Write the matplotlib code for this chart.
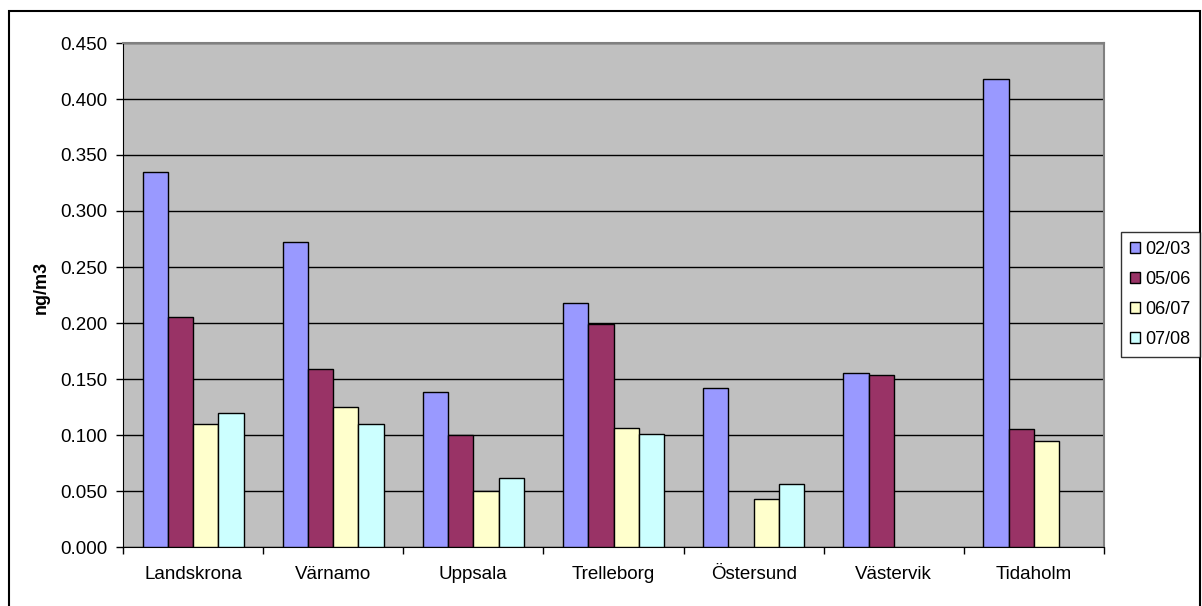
import numpy as np
import matplotlib
matplotlib.use("Agg")
import matplotlib.pyplot as plt
from matplotlib.patches import Rectangle

plt.rcParams['font.family'] = ['Liberation Sans', 'DejaVu Sans']

## data
sites = ["Landskrona", "Värnamo", "Uppsala", "Trelleborg", "Östersund", "Västervik", "Tidaholm"]
seasons = ["02/03", "05/06", "06/07", "07/08"]
v_0203 = [0.335, 0.272, 0.138, 0.218, 0.142, 0.155, 0.418]
v_0506 = [0.205, 0.159, 0.100, 0.199, np.nan, 0.154, 0.105]
v_0607 = [0.110, 0.125, 0.050, 0.106, 0.043, np.nan, 0.095]
v_0708 = [0.120, 0.110, 0.062, 0.101, 0.056, np.nan, np.nan]
colors = ["#9999FF", "#993366", "#FFFFCC", "#CCFFFF"]

W, H = 1202, 606
fig = plt.figure(figsize=(W / 100, H / 100), dpi=100)
ax = fig.add_axes([123 / W, 1 - 547 / H, (1104 - 123) / W, (547 - 43) / H])
ax.set_facecolor("#C0C0C0")

x = np.arange(len(sites))
bw = 0.18
series = [v_0203, v_0506, v_0607, v_0708]
for i, vals in enumerate(series):
    ax.bar(x + (i - 1.5) * bw, vals, bw, color=colors[i], edgecolor="black",
           linewidth=1, label=seasons[i], zorder=3)

ax.set_xlim(-0.5, len(sites) - 0.5)
ax.set_ylim(0, 0.45)
ax.set_yticks(np.arange(0, 0.451, 0.05))
ax.set_yticklabels(["%.3f" % t for t in np.arange(0, 0.451, 0.05)])
ax.yaxis.grid(True, color="black", linewidth=1, zorder=1)
ax.set_axisbelow(True)

ax.set_xticks(x)
ax.set_xticklabels(sites)
ax.set_xticks(np.arange(-0.5, len(sites), 1), minor=True)
ax.tick_params(axis="x", which="major", length=0, pad=14, labelsize=13.5)
ax.tick_params(axis="x", which="minor", length=5, width=1, direction="out", color="black")
ax.tick_params(axis="y", length=5, width=1, direction="out", pad=6, labelsize=13.5)

for s in ["top", "right"]:
    ax.spines[s].set_color("#808080")
    ax.spines[s].set_linewidth(1.5)
ax.spines["left"].set_color("black")
ax.spines["bottom"].set_color("black")

fig.text(41 / W, 0.525, "ng/m3", rotation=90, fontsize=13, fontweight="bold",
         ha="center", va="center")

leg = fig.legend(loc="upper left", bbox_to_anchor=(1121 / W, 1 - 232 / H),
                 fontsize=13, frameon=True, fancybox=False, edgecolor="black",
                 handlelength=0.55, handleheight=0.55, handletextpad=0.3,
                 labelspacing=0.72, borderpad=0.5, borderaxespad=0)
leg.get_frame().set_linewidth(1)

## outer chart border
fig.patches.append(Rectangle((8.5 / W, -0.01), (1200 - 8.5) / W, 1 - 10.5 / H + 0.01,
                             transform=fig.transFigure, fill=False,
                             edgecolor="black", linewidth=1.5))

fig.savefig("out.png", dpi=100)
